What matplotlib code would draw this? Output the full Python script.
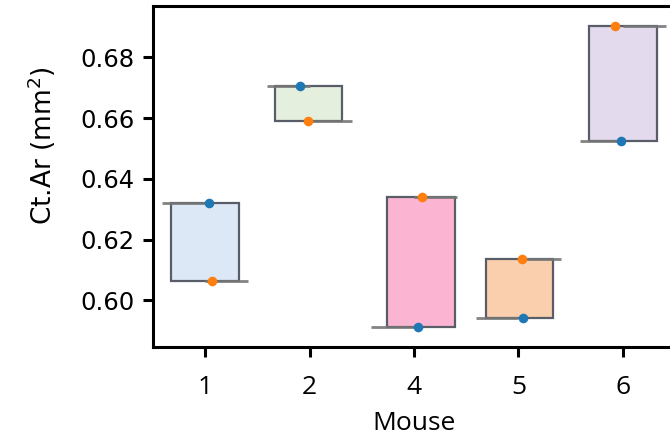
import matplotlib
matplotlib.use('Agg')
import matplotlib.pyplot as plt
import numpy as np

# Ct.Ar per mouse, two measurements each
mice = ['1', '2', '4', '5', '6']
meas_a = [0.6321, 0.6706, 0.5913, 0.5941, 0.6525]   # blue points
meas_b = [0.6062, 0.6590, 0.6339, 0.6136, 0.6903]   # orange points

box_colors = ['#dde8f6', '#e5efdd', '#fbb5d3', '#f9cfae', '#e3daee']
edge = '#585d68'
line_gray = '#767676'

# small horizontal jitter of the points, and a shift of the 4th box
jit_a = [0.035, -0.096, 0.04, 0.048, -0.02]
jit_b = [0.067, -0.02, 0.072, 0.035, -0.077]
box_shift = [0, -0.01, 0.07, 0.01, 0]

plt.rcParams['mathtext.fontset'] = 'dejavusans'

fig = plt.figure(figsize=(6.7, 4.36), dpi=100)
ax = fig.add_axes([153/670, 89/436, 522/670, 341/436])

x = np.arange(len(mice))
lo = np.minimum(meas_a, meas_b)
hi = np.maximum(meas_a, meas_b)

# floating bars spanning the two measurements
ax.bar(x + np.array(box_shift), hi - lo, bottom=lo, width=0.65,
       color=box_colors, edgecolor=edge, linewidth=1.6, zorder=2)

# gray level lines: first value to the left, second to the right
ax.hlines(meas_a, x - 0.41, x, color=line_gray, linewidth=2, alpha=0.9, zorder=3)
ax.hlines(meas_b, x, x + 0.41, color=line_gray, linewidth=2, alpha=0.9, zorder=3)

ax.scatter(x + np.array(jit_a), meas_a, s=48, color='#1f77b4', zorder=4, linewidths=0)
ax.scatter(x + np.array(jit_b), meas_b, s=48, color='#ff7f0e', zorder=4, linewidths=0)

ax.set_xlim(-0.5, 4.5)
ax.set_ylim(0.5846, 0.6969)
ax.set_yticks([0.60, 0.62, 0.64, 0.66, 0.68])
ax.set_yticklabels(['%.2f' % v for v in ax.get_yticks()], fontsize=17.5, family='DejaVu Sans')
ax.set_xticks(x)
ax.set_xticklabels(mice, fontsize=19, family='Open Sans')

ax.set_ylabel('Ct.Ar (mm$^2$)', fontsize=19, family='DejaVu Sans')
ax.yaxis.set_label_coords(-0.182, 0.59)
ax.set_xlabel('Mouse', fontsize=19, family='Open Sans', labelpad=8)

for s in ax.spines.values():
    s.set_linewidth(2.2)
ax.tick_params(width=2.2, length=7)
ax.tick_params(axis='y', pad=6)
ax.tick_params(axis='x', pad=13)

fig.savefig('out.png', dpi=100)
